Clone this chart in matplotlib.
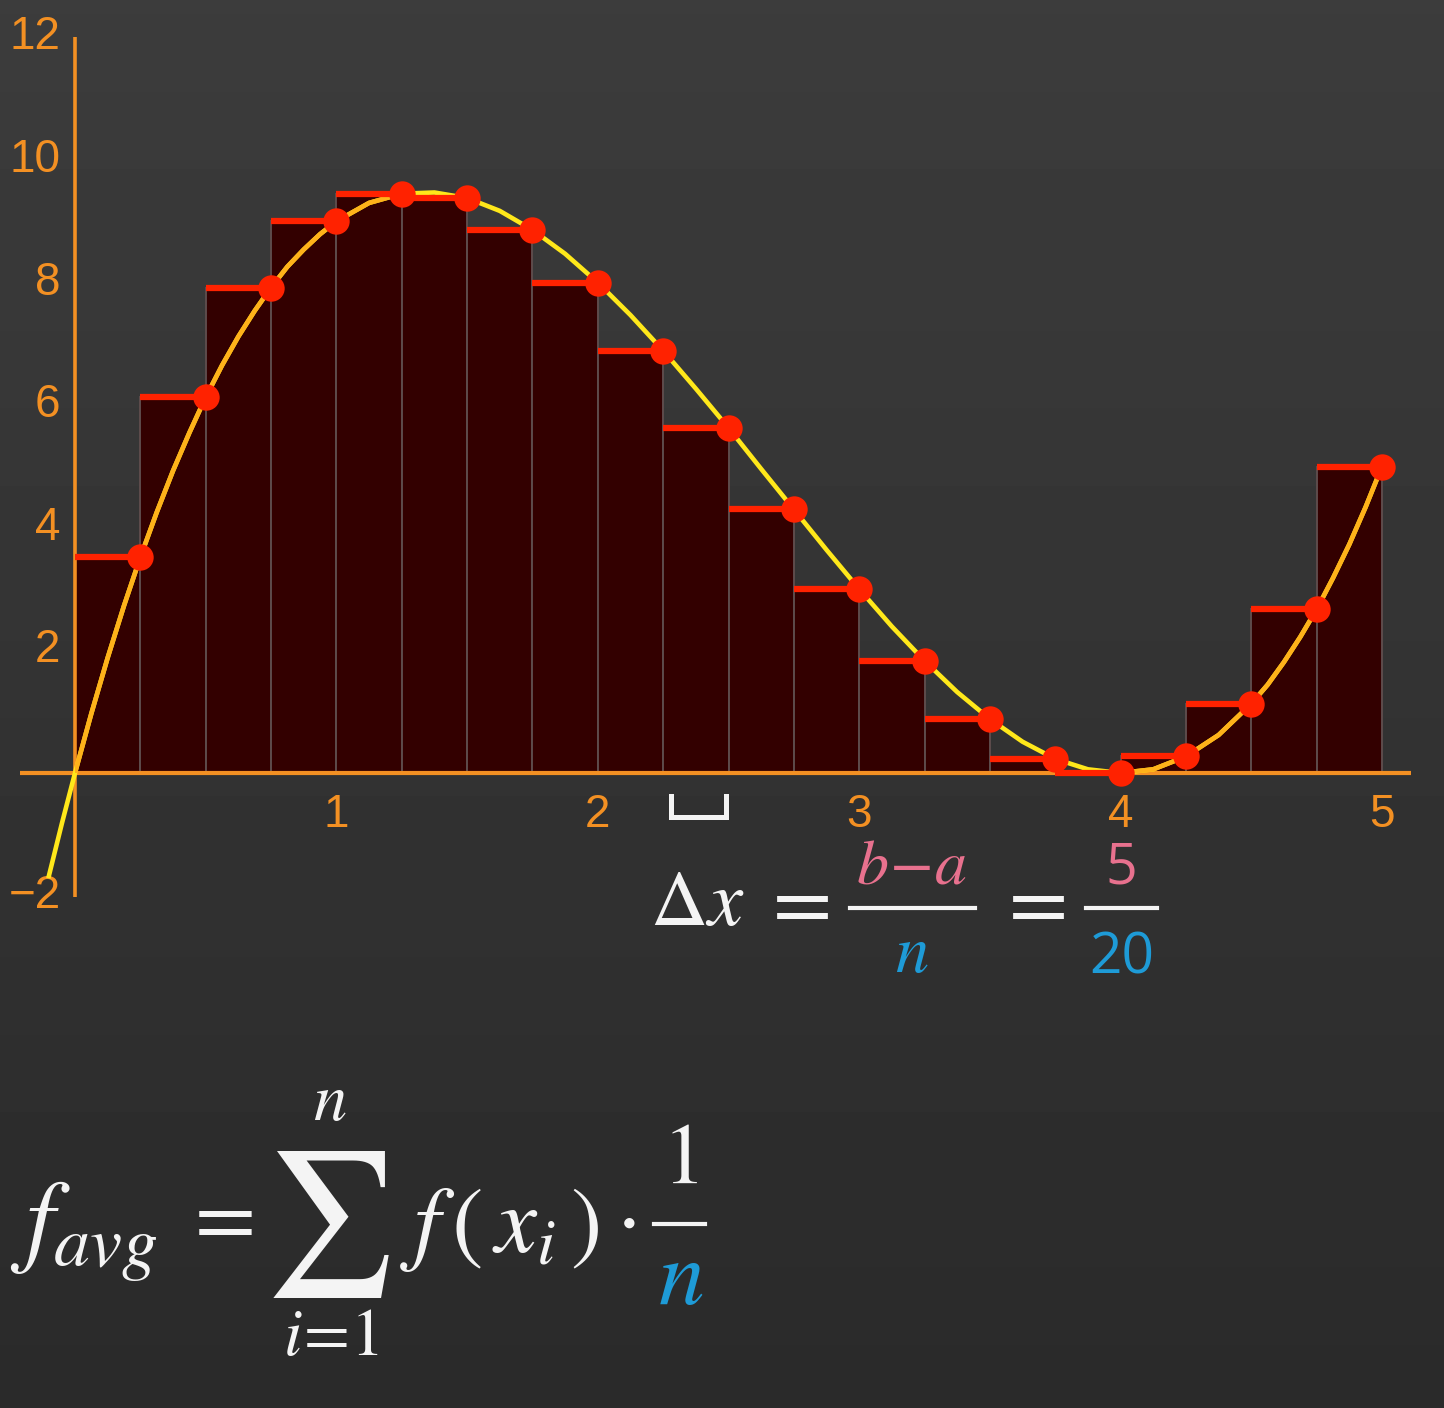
import numpy as np
import matplotlib
matplotlib.use("Agg")
import matplotlib.pyplot as plt
from matplotlib.patches import Polygon

plt.rcParams['mathtext.fontset'] = 'stix'
plt.rcParams['font.family'] = ['Liberation Sans', 'DejaVu Sans']

# Riemann sum, right endpoints, n = 20 on [0, 5]
bar_right = [0.25, 0.5, 0.75, 1.0, 1.25, 1.5, 1.75, 2.0, 2.25, 2.5,
             2.75, 3.0, 3.25, 3.5, 3.75, 4.0, 4.25, 4.5, 4.75, 5.0]
bar_height = [3.52, 6.13, 7.92, 9.0, 9.45, 9.38, 8.86, 8.0, 6.89, 5.63,
              4.30, 3.0, 1.83, 0.88, 0.23, 0.0, 0.27, 1.13, 2.67, 5.0]
dx = 0.25

# curve (denser where it bends fast)
curve_x = [-0.1, -0.05, 0.0, 0.0625, 0.125, 0.1875, 0.25, 0.3125, 0.375,
           0.4375, 0.5, 0.5625, 0.625, 0.6875, 0.75, 0.8125, 0.875, 0.9375,
           1.0, 1.125, 1.25, 1.375, 1.5, 1.625, 1.75, 1.875, 2.0, 2.125,
           2.25, 2.375, 2.5, 2.625, 2.75, 2.875, 3.0, 3.125, 3.25, 3.375,
           3.5, 3.625, 3.75, 3.875, 4.0, 4.125, 4.25, 4.375, 4.5, 4.5625,
           4.625, 4.6875, 4.75, 4.8125, 4.875, 4.9375, 5.0]
curve_y = [-1.68, -0.82, 0.0, 0.97, 1.88, 2.73, 3.52, 4.25, 4.93,
           5.55, 6.13, 6.65, 7.12, 7.54, 7.92, 8.26, 8.54, 8.79,
           9.0, 9.30, 9.45, 9.47, 9.38, 9.17, 8.86, 8.47, 8.0, 7.47,
           6.89, 6.27, 5.63, 4.96, 4.30, 3.64, 3.0, 2.39, 1.83, 1.32,
           0.88, 0.51, 0.23, 0.06, 0.0, 0.06, 0.27, 0.62, 1.13, 1.44,
           1.81, 2.22, 2.67, 3.18, 3.73, 4.34, 5.0]

x_ticks = [1, 2, 3, 4, 5]
y_ticks = [12, 10, 8, 6, 4, 2, -2]

ORANGE = '#f39023'
RED = '#ff2200'
YELLOW = '#ffe81a'
CURVE_IN = '#ffb21a'
BAR = '#330000'
PINK = '#e8718e'
BLUE = '#1e9bd7'
WHITE = '#f4f4f4'

W, H = 1444, 1408
fig = plt.figure(figsize=(W / 100, H / 100), dpi=100)
fig.patch.set_facecolor('#303030')

# background / text layer in pixel units
bg = fig.add_axes([0, 0, 1, 1])
bg.set_xlim(0, W)
bg.set_ylim(H, 0)
bg.axis('off')
shade = np.linspace(0.235, 0.165, 200).reshape(-1, 1)
bg.imshow(np.repeat(shade, 2, axis=1), cmap='gray', vmin=0, vmax=1,
          extent=[0, W, H, 0], aspect='auto', zorder=0)

# chart layer: 0 at x=75px, 5 at x=1382px ; 0 at y=773px, 10 at y=160px
px_x = (1382 - 75) / 5
px_y = (773 - 160) / 10
ax = fig.add_axes([0, 0, 1, 1])
ax.patch.set_alpha(0)
ax.set_xlim(-75 / px_x, (W - 75) / px_x)
ax.set_ylim((773 - H) / px_y, 773 / px_y)
ax.axis('off')

lefts = [r - dx for r in bar_right]
ax.bar(lefts, bar_height, width=dx, align='edge', color=BAR,
       edgecolor='#5e4c4c', linewidth=1.4, zorder=2)

# axes lines
ax.plot([-0.21, 5.11], [0, 0], color=ORANGE, lw=3.0, zorder=3,
        solid_capstyle='butt')
ax.plot([0, 0], [-2.02, 12.0], color=ORANGE, lw=2.6, zorder=3,
        solid_capstyle='butt')

for t in x_ticks:
    ax.text(t, -0.69, str(t), color=ORANGE, fontsize=33,
            ha='center', va='center', zorder=3)
for t in y_ticks:
    lab = str(t).replace('-', '\u2212')
    ax.text(-0.055, t, lab, color=ORANGE, fontsize=33,
            ha='right', va='center', zorder=3)

# curve: yellow outside the bars, orange where it runs over them
ax.plot(curve_x, curve_y, color=YELLOW, lw=3.3, zorder=4)
outline = [(0, 0)]
for l, r, h in zip(lefts, bar_right, bar_height):
    outline += [(l, h), (r, h)]
outline += [(bar_right[-1], 0)]
clip = Polygon(outline, closed=True, transform=ax.transData)
inner, = ax.plot(curve_x, curve_y, color=CURVE_IN, lw=3.3, zorder=4.1)
inner.set_clip_path(clip)

# red tops and sample points
ax.hlines(bar_height, lefts, bar_right, color=RED, lw=4.5, zorder=5)
ax.plot(bar_right, bar_height, 'o', color=RED, ms=19, mec='none', zorder=6)

# bracket under one sub-interval
bx0, bx1 = 2.25 + 0.03, 2.5 - 0.01
ax.plot([bx0, bx0, bx1, bx1], [-0.38, -0.72, -0.72, -0.38], color=WHITE,
        lw=3.6, solid_joinstyle='miter', zorder=3)

# delta x formula
bg.text(650, 925, r'$\Delta x$', color=WHITE, fontsize=57, ha='left',
        va='baseline')
bg.text(795, 927, r'$=$', color=WHITE, fontsize=62, ha='center',
        va='baseline')
bg.plot([850, 975], [908, 908], color=WHITE, lw=3)
bg.text(912, 883, r'$b\!-\!a$', color=PINK, fontsize=46, ha='center',
        va='baseline')
bg.text(912, 972, r'$n$', color=BLUE, fontsize=48, ha='center',
        va='baseline')
bg.text(1031, 927, r'$=$', color=WHITE, fontsize=62, ha='center',
        va='baseline')
bg.plot([1086, 1157], [908, 908], color=WHITE, lw=3)
bg.text(1121, 883, '5', color=PINK, fontsize=40, ha='center',
        va='baseline', family='Open Sans')
bg.text(1122, 974, '20', color=BLUE, fontsize=41, ha='center',
        va='baseline', family='Open Sans')

# average formula
bg.text(10, 1254, r'$f_{avg}$', color=WHITE, fontsize=74, ha='left',
        va='baseline')
bg.text(218, 1244, r'$=$', color=WHITE, fontsize=64, ha='center',
        va='baseline')
bg.text(327, 1224, r'$\sum$', color=WHITE, fontsize=104, ha='center',
        va='center')
bg.text(330, 1120, r'$n$', color=WHITE, fontsize=48, ha='center',
        va='baseline')
bg.text(331, 1355, r'$i\!=\!1$', color=WHITE, fontsize=48, ha='center',
        va='baseline')
bg.text(400, 1252, r'$f\,(\,x_i\,)$', color=WHITE, fontsize=68, ha='left',
        va='baseline')
bg.text(626, 1244, r'$\cdot$', color=WHITE, fontsize=62, ha='center',
        va='baseline')
bg.text(680, 1183, r'$1$', color=WHITE, fontsize=62, ha='center',
        va='baseline')
bg.plot([654, 705], [1224, 1224], color=WHITE, lw=3)
bg.text(681, 1304, r'$n$', color=BLUE, fontsize=66, ha='center',
        va='baseline')

fig.savefig('out.png', dpi=100, facecolor=fig.get_facecolor())
